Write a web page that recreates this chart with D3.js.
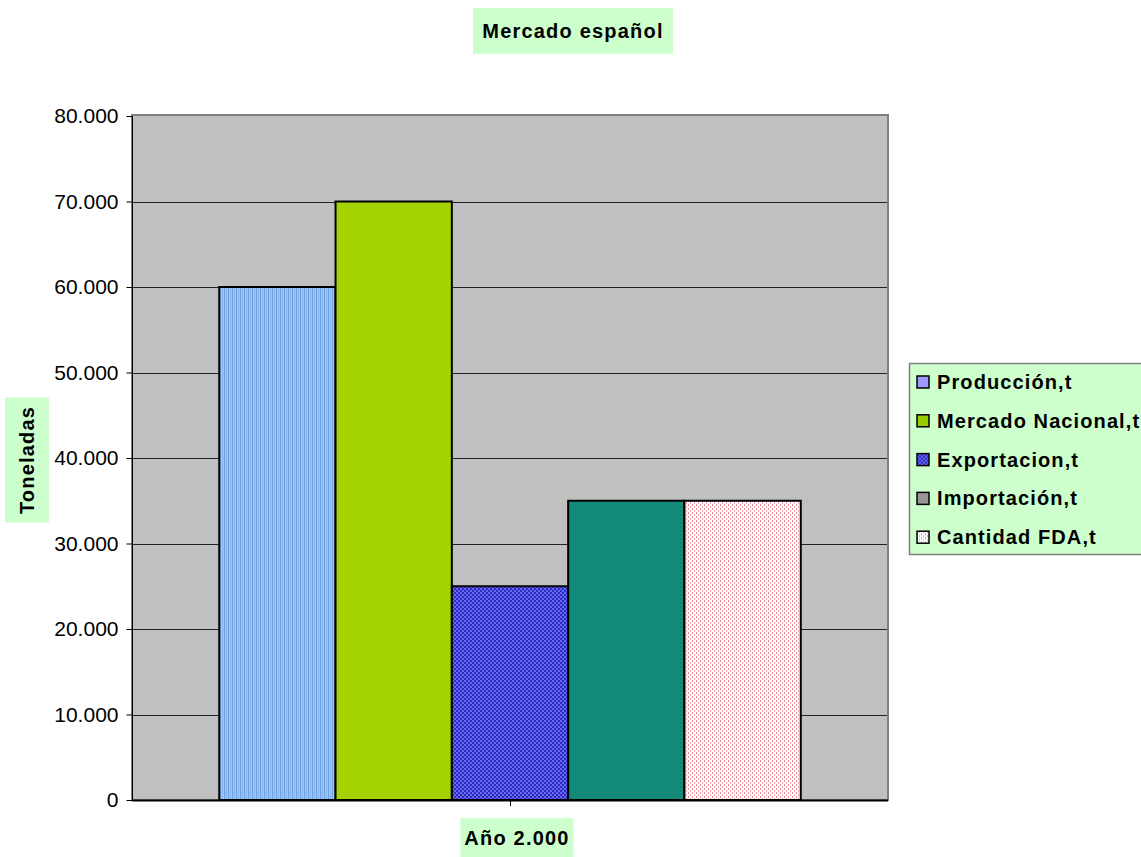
<!DOCTYPE html>
<head>
  <meta charset="utf-8" />
  <script src="https://d3js.org/d3.v7.min.js"></script>
  <style>
    body {
      margin: 0;
      background: #fff;
      font-family: "Liberation Sans", Arial, sans-serif;
    }
    .lbl { font-size: 20px; font-weight: bold; fill: #000; }
  </style>
</head>

<body>
  <script>
    // datos
    var titulo = "Mercado español";
    var categorias = ["Año 2.000"];
    var series = ["Producción,t", "Mercado Nacional,t", "Exportacion,t", "Importación,t", "Cantidad FDA,t"];
    var valores = [60000, 70000, 25000, 35000, 35000];
    var ejeY = "Toneladas";
    var ticksY = [0, 10000, 20000, 30000, 40000, 50000, 60000, 70000, 80000];

    var width = 1141, height = 857;
    var margin = {left: 132, top: 116, right: 888, bottom: 800};

    var svg = d3.select("body").append("svg")
      .attr("width", width)
      .attr("height", height);

    var defs = svg.append("defs");

    // motivos de relleno
    var p1 = defs.append("pattern").attr("id", "pat0").attr("patternUnits", "userSpaceOnUse")
      .attr("width", 4).attr("height", 4);
    p1.append("rect").attr("width", 4).attr("height", 4).attr("fill", "#a3c8f3");
    p1.append("rect").attr("width", 1).attr("height", 4).attr("fill", "#6a9fe0");
    p1.append("rect").attr("x", 2).attr("width", 1).attr("height", 4).attr("fill", "#86b4ea");

    var p2 = defs.append("pattern").attr("id", "pat1").attr("patternUnits", "userSpaceOnUse")
      .attr("width", 4).attr("height", 4);
    p2.append("rect").attr("width", 4).attr("height", 4).attr("fill", "#a6d400");
    p2.append("rect").attr("width", 1).attr("height", 1).attr("fill", "#9cc800");
    p2.append("rect").attr("x", 2).attr("y", 2).attr("width", 1).attr("height", 1).attr("fill", "#9cc800");

    var p3 = defs.append("pattern").attr("id", "pat2").attr("patternUnits", "userSpaceOnUse")
      .attr("width", 4).attr("height", 4);
    p3.append("rect").attr("width", 4).attr("height", 4).attr("fill", "#2b2bcc");
    p3.append("rect").attr("width", 2).attr("height", 2).attr("fill", "#6a6ae6");
    p3.append("rect").attr("x", 2).attr("y", 2).attr("width", 2).attr("height", 2).attr("fill", "#6a6ae6");

    var p4 = defs.append("pattern").attr("id", "pat3").attr("patternUnits", "userSpaceOnUse")
      .attr("width", 4).attr("height", 4);
    p4.append("rect").attr("width", 4).attr("height", 4).attr("fill", "#138a78");
    p4.append("rect").attr("width", 1).attr("height", 1).attr("fill", "#1a9480");

    var p5 = defs.append("pattern").attr("id", "pat4").attr("patternUnits", "userSpaceOnUse")
      .attr("width", 4).attr("height", 4);
    p5.append("rect").attr("width", 4).attr("height", 4).attr("fill", "#ffffff");
    p5.append("rect").attr("width", 1).attr("height", 2).attr("fill", "#f08a9a");
    p5.append("rect").attr("x", 2).attr("y", 2).attr("width", 1).attr("height", 2).attr("fill", "#f4a8b4");

    var rellenos = ["url(#pat0)", "url(#pat1)", "url(#pat2)", "url(#pat3)", "url(#pat4)"];
    var leyendaColores = ["#9999ff", "#99cc00", "url(#pat2)", "#969696", "url(#pat4)"];

    // escalas
    var y = d3.scaleLinear().domain([0, 80000]).range([margin.bottom, margin.top]);
    var x0 = d3.scaleBand().domain(categorias).range([margin.left, margin.right]);
    // gap width 150% -> grupo = 5 barras, huecos = 1.5 barras
    var anchoBarra = (margin.right - margin.left) / (series.length + 1.5);
    var x1 = d3.scaleBand().domain(series)
      .range([margin.left + anchoBarra * 0.75, margin.right - anchoBarra * 0.75]);

    var loc = d3.formatLocale({decimal: ",", thousands: ".", grouping: [3], currency: ["", ""]});
    var fmt = loc.format(",");

    // area del grafico
    svg.append("rect")
      .attr("x", margin.left).attr("y", margin.top - 1)
      .attr("width", margin.right - margin.left).attr("height", margin.bottom - margin.top + 1)
      .attr("fill", "#c0c0c0").attr("stroke", "#808080").attr("stroke-width", 2);

    // lineas de division
    svg.append("g").selectAll("line").data(ticksY.slice(1, -1))
      .join("line")
      .attr("x1", margin.left).attr("x2", margin.right - 1)
      .attr("y1", d => Math.round(y(d)) + 0.5).attr("y2", d => Math.round(y(d)) + 0.5)
      .attr("stroke", "#222").attr("stroke-width", 1);

    // barras
    svg.append("g").selectAll("rect").data(valores)
      .join("rect")
      .attr("x", (d, i) => x1(series[i]))
      .attr("y", d => y(d))
      .attr("width", x1.bandwidth())
      .attr("height", d => y(0) - y(d))
      .attr("fill", (d, i) => rellenos[i])
      .attr("stroke", "#000").attr("stroke-width", 2);

    // eje Y
    var axisY = svg.append("g")
      .attr("transform", "translate(" + (margin.left + 0.5) + ",0)")
      .call(d3.axisLeft(y).tickValues(ticksY).tickFormat(fmt).tickSize(6).tickPadding(8));
    axisY.select(".domain").attr("stroke", "#000").attr("d", "M0," + margin.top + "V" + margin.bottom);
    axisY.selectAll(".tick line").attr("stroke", "#000");
    axisY.selectAll(".tick text").attr("font-family", "Liberation Sans, Arial, sans-serif")
      .attr("font-size", 21).attr("fill", "#000");

    // eje X
    svg.append("line")
      .attr("x1", margin.left).attr("x2", margin.right)
      .attr("y1", margin.bottom + 0.5).attr("y2", margin.bottom + 0.5)
      .attr("stroke", "#000").attr("stroke-width", 2);
    svg.append("line")
      .attr("x1", Math.round(x0(categorias[0]) + x0.bandwidth() / 2) + 0.5)
      .attr("x2", Math.round(x0(categorias[0]) + x0.bandwidth() / 2) + 0.5)
      .attr("y1", margin.bottom).attr("y2", margin.bottom + 6)
      .attr("stroke", "#000");

    // etiquetas con fondo verde
    function etiqueta(txt, cx, cy, w, h, rot) {
      var g = svg.append("g").attr("transform", "translate(" + cx + "," + cy + ")" + (rot ? " rotate(-90)" : ""));
      g.append("rect").attr("x", -w / 2).attr("y", -h / 2).attr("width", w).attr("height", h).attr("fill", "#ccffcc");
      g.append("text").attr("class", "lbl").attr("text-anchor", "middle").attr("dy", "0.35em")
        .attr("letter-spacing", 1.2).text(txt);
    }
    etiqueta(titulo, 573, 31, 200, 46, false);
    etiqueta(categorias[0], 517, 838, 113, 40, false);
    etiqueta(ejeY, 27, 460, 125, 44, true);

    // leyenda
    var leg = svg.append("g").attr("transform", "translate(909,363)");
    leg.append("rect").attr("x", 0.5).attr("y", 0.5).attr("width", 240).attr("height", 191)
      .attr("fill", "#ccffcc").attr("stroke", "#808080").attr("stroke-width", 1.5);
    var item = leg.selectAll("g.item").data(series).join("g")
      .attr("class", "item")
      .attr("transform", (d, i) => "translate(0," + (19 + i * 38.8) + ")");
    item.append("rect").attr("x", 8).attr("y", -6).attr("width", 12).attr("height", 12)
      .attr("fill", (d, i) => leyendaColores[i]).attr("stroke", "#000").attr("stroke-width", 1.5);
    item.append("text").attr("class", "lbl").attr("x", 28).attr("dy", "0.35em")
      .attr("letter-spacing", 1.1).text(d => d);
  </script>
</body>
